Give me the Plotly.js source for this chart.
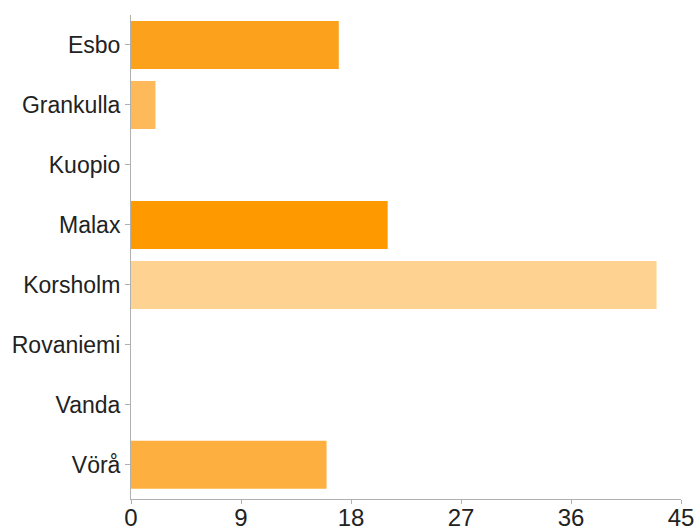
<!DOCTYPE html>
<html>
<head>
<meta charset="utf-8">
<script src="https://cdn.plot.ly/plotly-3.0.1.min.js"></script>
<style>html,body{margin:0;padding:0;background:#fff;}#chart{width:696px;height:530px;}</style>
</head>
<body>
<div id="chart"></div>
<script>
const categories = ["Esbo", "Grankulla", "Kuopio", "Malax", "Korsholm", "Rovaniemi", "Vanda", "Vörå"];
const counts = [17, 2, 0, 21, 43, 0, 0, 16];
const barColors = ["#FBA11B", "#FDB95A", "#FDB247", "#FF9900", "#FED291", "#FDB247", "#FDB247", "#FDB040"];
const xTicks = [0, 9, 18, 27, 36, 45];

Plotly.newPlot("chart", [{
  type: "bar",
  orientation: "h",
  y: categories,
  x: counts,
  marker: {color: barColors, line: {width: 0}},
  hoverinfo: "none"
}], {
  width: 696,
  height: 530,
  margin: {l: 131, r: 15, t: 15, b: 31, pad: 0},
  paper_bgcolor: "#ffffff",
  plot_bgcolor: "#ffffff",
  bargap: 0.2,
  showlegend: false,
  font: {family: "Liberation Sans, Arial, sans-serif", color: "#222222"},
  xaxis: {
    range: [0, 45],
    tickvals: xTicks,
    ticktext: xTicks.map(String),
    showgrid: false,
    zeroline: false,
    showline: true,
    linecolor: "#b0b0b0",
    linewidth: 1,
    ticks: "outside",
    ticklen: 4,
    tickcolor: "#b0b0b0",
    ticklabelstandoff: -7,
    tickfont: {size: 24, color: "#222222"},
    fixedrange: true
  },
  yaxis: {
    type: "category",
    categoryorder: "array",
    categoryarray: categories,
    range: [7.57, -0.5],
    showgrid: false,
    zeroline: false,
    showline: true,
    linecolor: "#b0b0b0",
    linewidth: 1,
    ticks: "outside",
    ticklen: 5,
    tickcolor: "#b0b0b0",
    tickfont: {size: 23, color: "#222222"},
    fixedrange: true
  }
}, {displayModeBar: false, staticPlot: true});
</script>
</body>
</html>
